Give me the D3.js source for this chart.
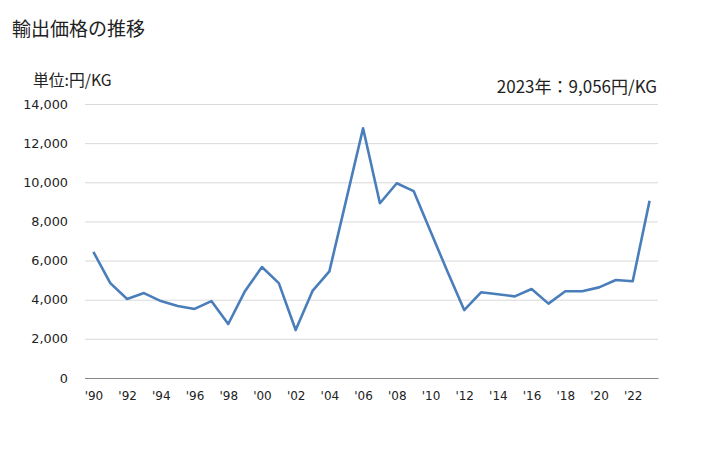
<!DOCTYPE html>
<html><head><meta charset="utf-8">
<script src="https://cdn.jsdelivr.net/npm/d3@7"></script>
<style>body{margin:0;background:#fff}svg{display:block}</style>
</head><body>
<svg id="c" width="728" height="450"></svg>
<script>
const years = [1990,1991,1992,1993,1994,1995,1996,1997,1998,1999,2000,2001,2002,2003,2004,2005,2006,2007,2008,2009,2010,2011,2012,2013,2014,2015,2016,2017,2018,2019,2020,2021,2022,2023];
const values = [6440,4850,4040,4340,3930,3680,3530,3930,2760,4450,5670,4850,2450,4450,5450,9100,12760,8930,9950,9550,7500,5450,3470,4380,4280,4170,4550,3800,4430,4430,4630,5010,4940,9056];
const yTicks = [0,2000,4000,6000,8000,10000,12000,14000];
const xTickYears = years.filter(y => y % 2 === 0);
const title = "輸出価格の推移";
const unitLabel = "単位:円/KG";
const note = "2023年：9,056円/KG";

(function(){
const svg = d3.select("#c");
const pL = 85, pR = 658, pT = 104, pB = 378;
const x = d3.scalePoint().domain(years).range([pL, pR]).padding(0.5);
const y = d3.scaleLinear().domain([0,14000]).range([pB, pT]);
const jp = '"Noto Sans CJK JP", sans-serif';
const num = '"DejaVu Sans", sans-serif';

svg.append("text").attr("x",12).attr("y",36).style("font-family",jp).style("font-size","19px").attr("fill","#222").text(title);
svg.append("text").attr("x",33).attr("y",86).style("font-family",jp).style("font-size","15.8px").attr("fill","#222").text(unitLabel);
svg.append("text").attr("x",657).attr("y",93).attr("text-anchor","end").style("font-family",jp).style("font-size","17px").attr("fill","#222").text(note);

const yAxis = d3.axisLeft(y).tickValues(yTicks).tickSize(-(pR-pL)).tickPadding(17).tickFormat(d3.format(","));
const gy = svg.append("g").attr("transform",`translate(${pL},0)`).call(yAxis);
gy.select(".domain").remove();
gy.selectAll(".tick line").attr("stroke","#d9d9d9");
gy.selectAll(".tick").filter(d => d===0).select("line").attr("stroke","#888");
gy.selectAll("text").style("font-family",num).style("font-size","12.8px").attr("fill","#222");

const xAxis = d3.axisBottom(x).tickValues(xTickYears).tickSize(0).tickPadding(13).tickFormat(d => "'" + String(d).slice(2));
const gx = svg.append("g").attr("transform",`translate(0,${pB})`).call(xAxis);
gx.select(".domain").attr("stroke","#888");
gx.selectAll("text").style("font-family",num).style("font-size","12px").attr("fill","#222");

const line = d3.line().x((d,i) => x(years[i])).y(d => y(d));
svg.append("path").datum(values).attr("d",line).attr("fill","none").attr("stroke","#4a7ebb").attr("stroke-width",2.6).attr("stroke-linejoin","round");
})();
</script>
</body></html>
